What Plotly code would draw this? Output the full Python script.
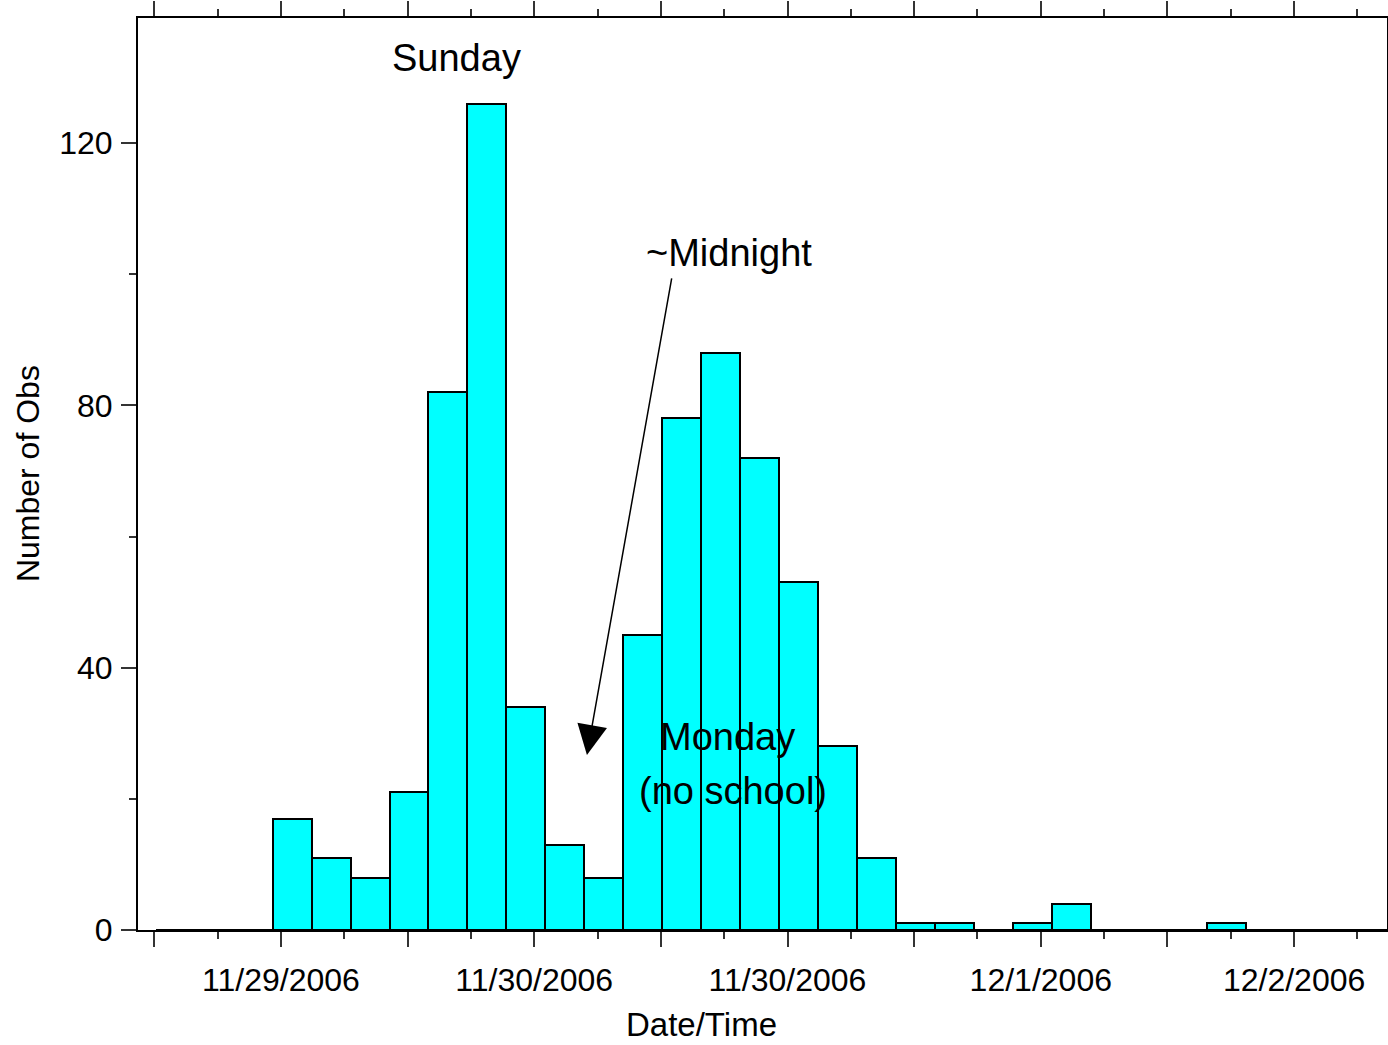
import plotly.graph_objects as go

# Histogram of observations; x in hours after 11/29/2006 00:00
bin_start = 0.1
bin_width = 2.46
counts = [0, 0, 0, 17, 11, 8, 21, 82, 126, 34, 13, 8, 45, 78, 88, 72, 53, 28, 11,
          1, 1, 0, 1, 4, 0, 0, 0, 1, 0, 0, 0, 0]
centers = [bin_start + (i + 0.5) * bin_width for i in range(len(counts))]

major_ticks = [0, 8, 16, 24, 32, 40, 48, 56, 64, 72]
major_labels = ["", "11/29/2006", "", "11/30/2006", "", "11/30/2006", "", "12/1/2006", "", "12/2/2006"]

y_ticks = [0, 40, 80, 120]
y_labels = ["0", "40", "80", "120"]

FONT = "Liberation Sans, Arial, sans-serif"

fig = go.Figure()
fig.add_trace(go.Bar(
    x=centers, y=counts, width=bin_width,
    marker=dict(color="#00FFFF", line=dict(color="black", width=2)),
    showlegend=False, hoverinfo="x+y",
))

fig.update_layout(
    width=1388, height=1045,
    margin=dict(l=138, r=1, t=18, b=115),
    plot_bgcolor="white", paper_bgcolor="white",
    bargap=0,
    font=dict(family=FONT, size=32, color="black"),
    xaxis=dict(
        range=[-1.03, 77.87], showgrid=False, zeroline=False, automargin=False,
        showline=True, linecolor="black", linewidth=2, mirror="ticks",
        ticks="outside", ticklen=15, tickwidth=1.5, tickcolor="#333",
        tickvals=major_ticks, ticktext=major_labels,
        tickfont=dict(size=32), ticklabelstandoff=6,
        minor=dict(dtick=4, tick0=0, ticks="outside", ticklen=7, tickwidth=1.5, tickcolor="#333"),
    ),
    yaxis=dict(
        range=[0, 139.06], showgrid=False, zeroline=False, automargin=False,
        showline=True, linecolor="black", linewidth=2, mirror="ticks",
        ticks="outside", ticklen=15, tickwidth=1.5, tickcolor="#333",
        tickvals=y_ticks, ticktext=y_labels,
        tickfont=dict(size=32), ticklabelstandoff=2,
        minor=dict(dtick=20, tick0=0, ticks="outside", ticklen=7, tickwidth=1.5, tickcolor="#333"),
    ),
    annotations=[
        dict(text="Sunday", x=19.12, y=133.0, xref="x", yref="y", showarrow=False,
             font=dict(size=38)),
        dict(text="~Midnight", x=36.3, y=103.2, xref="x", yref="y", showarrow=False,
             font=dict(size=38)),
        dict(text="Monday", x=36.24, y=29.4, xref="x", yref="y", showarrow=False,
             font=dict(size=38)),
        dict(text="(no school)", x=36.55, y=21.2, xref="x", yref="y", showarrow=False,
             font=dict(size=38)),
        dict(text="", x=27.33, y=26.7, xref="x", yref="y", ax=32.7, ay=99.6,
             axref="x", ayref="y", showarrow=True, arrowhead=2, arrowsize=4,
             arrowwidth=1.5, arrowcolor="black"),
        dict(text="Number of Obs", x=-0.088, y=0.5, xref="paper", yref="paper",
             xanchor="center", yanchor="middle",
             textangle=-90, showarrow=False, font=dict(size=32)),
        dict(text="Date/Time", x=0.4508, y=-0.1258, xref="paper", yref="paper",
             xanchor="center", yanchor="bottom",
             showarrow=False, font=dict(size=33)),
    ],
)

fig.write_html(
    "out.html",
    config={"displayModeBar": False},
    post_script="document.body.style.margin='0';document.body.style.overflow='hidden';",
)
